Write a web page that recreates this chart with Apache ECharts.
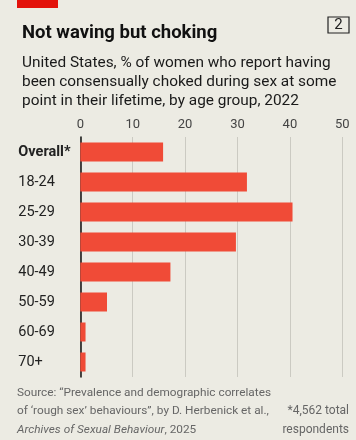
<!DOCTYPE html>
<html>
<head>
<meta charset="utf-8">
<script src="https://cdn.jsdelivr.net/npm/echarts@6/dist/echarts.min.js"></script>
<style>
html,body{margin:0;padding:0;background:#ecebe3;}
#c{width:356px;height:440px;}
</style>
</head>
<body>
<div id="c"></div>
<script>
const categories = ["Overall*", "18-24", "25-29", "30-39", "40-49", "50-59", "60-69", "70+"];
const values = [15.8, 31.8, 40.5, 29.7, 17.2, 5.1, 1.0, 1.0];
const xTicks = [0, 10, 20, 30, 40, 50];

const FONT = "Roboto";
const chart = echarts.init(document.getElementById('c'), null, {renderer: 'canvas'});
chart.setOption({
  backgroundColor: '#ecebe3',
  animation: false,
  textStyle: {fontFamily: FONT},
  title: [
    {text: 'Not waving but choking', left: 17, top: 19,
     textStyle: {fontFamily: FONT, fontSize: 18.5, fontWeight: 'bold', color: '#111'}},
    {text: 'United States, % of women who report having\nbeen consensually choked during sex at some\npoint in their lifetime, by age group, 2022',
     left: 17, top: 49,
     textStyle: {fontFamily: FONT, fontSize: 15.4, fontWeight: 'normal', color: '#1a1a1a', lineHeight: 19}}
  ],
  graphic: [
    {type: 'rect', shape: {x: 17, y: 0, width: 41, height: 8}, style: {fill: '#e3120b'}},
    {type: 'rect', shape: {x: 328, y: 17, width: 21, height: 16}, style: {fill: 'none', stroke: '#222', lineWidth: 1.2}},
    {type: 'text', x: 338.5, y: 25.5, style: {text: '2', fontFamily: FONT, fontSize: 15, fill: '#222', align: 'center', verticalAlign: 'middle'}},
    {type: 'text', x: 17, y: 383.5, style: {
      text: '{n|Source: \u201cPrevalence and demographic correlates}\n{n|of \u2018rough sex\u2019 behaviours\u201d, by D. Herbenick et al.,}\n{i|Archives of Sexual Behaviour}{n|, 2025}',
      fontFamily: FONT, fontSize: 11.8, lineHeight: 18.5, fill: '#666',
      rich: {n: {fontSize: 11.8, fontWeight: 'normal', fill: '#666', fontFamily: FONT, lineHeight: 18.5},
             i: {fontSize: 11.8, fontWeight: 'normal', fontStyle: 'italic', fill: '#666', fontFamily: FONT, lineHeight: 18.5}}}},
    {type: 'text', x: 349, y: 402, style: {
      text: '*4,562 total\nrespondents', align: 'right', fontFamily: FONT, fontSize: 12,
      lineHeight: 18.5, fill: '#666', fontWeight: 'normal'}}
  ],
  grid: {left: 80.3, right: 13.7, top: 137, height: 240, containLabel: false},
  xAxis: {
    type: 'value', position: 'top', min: 0, max: 50, interval: 10,
    axisLine: {show: false}, axisTick: {show: false},
    axisLabel: {margin: 6, fontSize: 13, color: '#444', fontFamily: FONT,
      formatter: function (v) { return xTicks.indexOf(v) >= 0 ? String(v) : ''; }},
    splitLine: {show: true, lineStyle: {color: '#cbcac2', width: 1}}
  },
  yAxis: {
    type: 'category', data: categories, inverse: true,
    axisLine: {show: true, lineStyle: {color: '#111', width: 1.5}},
    axisTick: {show: false},
    axisLabel: {margin: 62, align: 'left', fontSize: 14.5, color: '#222', fontFamily: FONT,
      formatter: function (v, i) { return i === 0 ? '{b|' + v + '}' : v; },
      rich: {b: {fontWeight: 'bold', fontSize: 14.5, color: '#222', fontFamily: FONT}}}
  },
  series: [{
    type: 'bar', data: values, barWidth: 19,
    itemStyle: {color: '#f04b37'}, z: 1
  }]
});
</script>
</body>
</html>
